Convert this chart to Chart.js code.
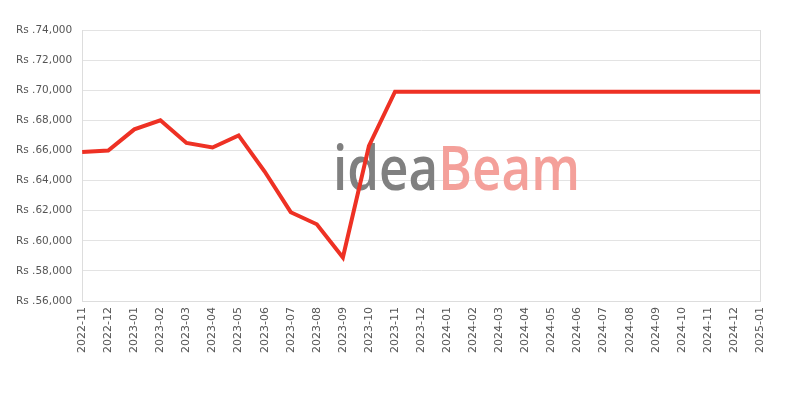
<!DOCTYPE html>
<html>
<head>
<meta charset="utf-8">
<script src="https://cdn.jsdelivr.net/npm/chart.js@4"></script>
<style>
  html, body { margin: 0; padding: 0; background: #fff; }
  #wrap { width: 800px; height: 400px; }
</style>
</head>
<body>
<div id="wrap"><canvas id="priceChart"></canvas></div>
<script>
// months on the x axis
const months = [
  '2022-11', '2022-12', '2023-01', '2023-02', '2023-03', '2023-04', '2023-05',
  '2023-06', '2023-07', '2023-08', '2023-09', '2023-10', '2023-11', '2023-12',
  '2024-01', '2024-02', '2024-03', '2024-04', '2024-05', '2024-06', '2024-07',
  '2024-08', '2024-09', '2024-10', '2024-11', '2024-12', '2025-01'
];

// price in rupees
const prices = [
  65900, 66000, 67400, 68000, 66500, 66200, 67000,
  64600, 61900, 61100, 58900, 66300, 69900, 69900,
  69900, 69900, 69900, 69900, 69900, 69900, 69900,
  69900, 69900, 69900, 69900, 69900, 69900
];

const yMin = 56000;
const yMax = 74000;
const yStep = 2000;

// watermark drawn behind the line
const watermark = {
  id: 'watermark',
  beforeDatasetsDraw(chart) {
    const c = chart.ctx;
    c.save();
    c.font = '600 62px "Open Sans"';
    c.textBaseline = 'alphabetic';
    const w1 = c.measureText('idea').width;
    const w2 = c.measureText('Beam').width;
    const sx = 247 / (w1 + w2);
    c.translate(333, 190);
    c.scale(sx, 1);
    c.fillStyle = '#808080';
    c.fillText('idea', 0, 0);
    c.fillStyle = '#f4a09a';
    c.fillText('Beam', w1, 0);
    c.restore();
  }
};

new Chart(document.getElementById('priceChart'), {
  type: 'line',
  data: {
    labels: months,
    datasets: [{
      data: prices,
      borderColor: '#ee3124',
      borderWidth: 4,
      pointRadius: 0,
      tension: 0,
      fill: false
    }]
  },
  plugins: [watermark],
  options: {
    responsive: true,
    maintainAspectRatio: false,
    animation: false,
    layout: { padding: { top: 30, right: 40, bottom: 41, left: 6 } },
    plugins: {
      legend: { display: false },
      tooltip: { enabled: false }
    },
    scales: {
      x: {
        offset: false,
        grid: {
          drawTicks: false,
          color: ctx => ctx.index === months.length - 1 ? '#dddddd' : 'rgba(0,0,0,0)'
        },
        border: { color: '#dddddd' },
        ticks: {
          autoSkip: false,
          minRotation: 90,
          maxRotation: 90,
          padding: 6,
          color: '#555',
          font: { family: 'DejaVu Sans', size: 11 }
        }
      },
      y: {
        min: yMin,
        max: yMax,
        grid: { drawTicks: false, color: '#e3e3e3' },
        border: { color: '#dddddd' },
        ticks: {
          stepSize: yStep,
          padding: 10,
          color: '#555',
          font: { family: 'DejaVu Sans', size: 10.5 },
          callback: v => 'Rs .' + v.toLocaleString('en-US')
        }
      }
    }
  }
});
</script>
</body>
</html>
